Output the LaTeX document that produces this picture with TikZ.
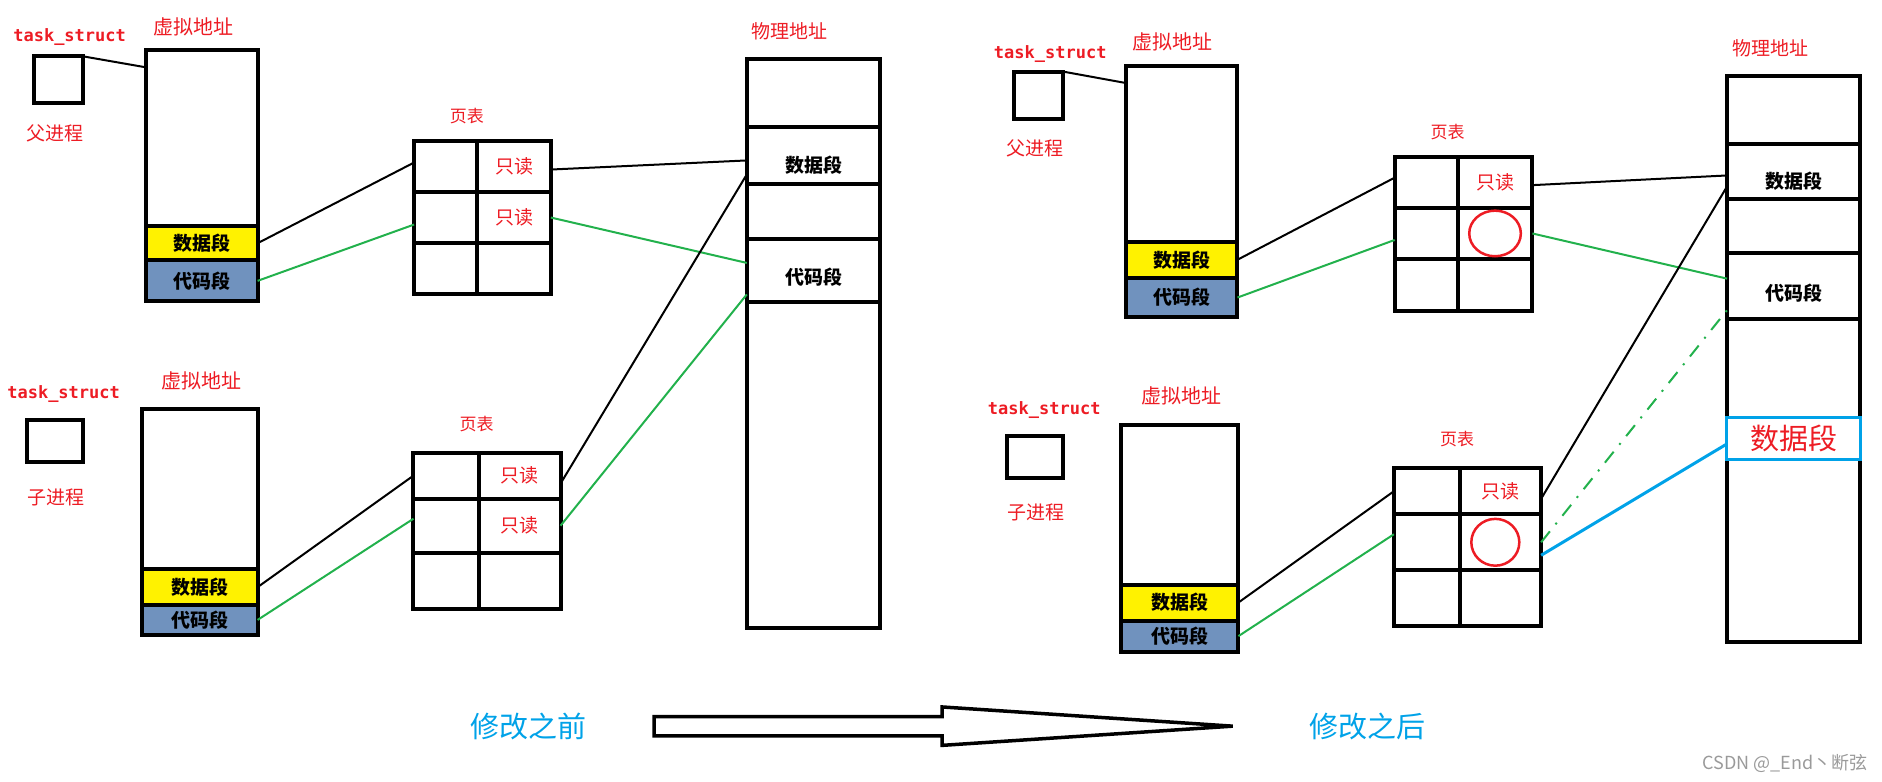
\documentclass[tikz,border=0pt]{standalone}
\usepackage{fontspec}
\setmainfont{Noto Sans CJK SC}
\newfontfamily\tsfont{DejaVu Sans Mono}
\usepackage{tikz}
\usetikzlibrary{positioning}
\usepackage{xcolor}
\definecolor{PaintRed}{HTML}{ED1C24}
\definecolor{PaintGreen}{HTML}{22B14C}
\definecolor{PaintBlue}{HTML}{00A2E8}
\definecolor{SegYellow}{HTML}{FFF200}
\definecolor{SegBlue}{HTML}{7092BE}
\definecolor{MarkGray}{HTML}{9A9A9A}

\begin{document}
\begin{tikzpicture}[x=1.2pt,y=-1.2pt,
  seg/.style 2 args={draw,line width=4pt,inner sep=0pt,outer sep=0pt,anchor=north west,
    minimum width=#1*1.2pt,minimum height=#2*1.2pt},
  tagtxt/.style={text=PaintRed,inner sep=0pt,font=\fontsize{17}{19}\selectfont\tsfont\bfseries},
  redtxt/.style={text=PaintRed,inner sep=0pt,font=\fontsize{19}{21}\selectfont},
  vatxt/.style={redtxt,font=\fontsize{20}{22}\selectfont},
  pgtxt/.style={redtxt,font=\fontsize{17}{19}\selectfont},
  segtxt/.style={font=\fontsize{19}{21}\selectfont\bfseries},
  bluetxt/.style={text=PaintBlue,inner sep=0pt,font=\fontsize{29}{32}\selectfont},
  vlink/.style={line width=2pt},
  glink/.style={draw=PaintGreen,line width=2pt},
  oldlink/.style={draw=PaintGreen,line width=2pt,dash pattern=on 14pt off 9pt on 2pt off 9pt},
  newlink/.style={draw=PaintBlue,line width=3pt},
  ring/.style={draw=PaintRed,line width=2.5pt}]
\useasboundingbox (0,0) rectangle (1568,651);

% ---- before: parent
\node[tagtxt] (ts1) at (58,31) {task\_struct};
\node[seg={41.5}{39}] (pbox1) at (28,47) {};
\node[redtxt] (pn1) at (46,111) {父进程};
\node[vatxt] (va1) at (161,22) {虚拟地址};
\node[seg={92.6}{146.3}] (vtop1) at (122,42) {};
\node[seg={92.6}{28.7},below=0pt of vtop1,fill=SegYellow,segtxt] (vdata1) {数据段};
\node[seg={92.6}{34},below=0pt of vdata1,fill=SegBlue,segtxt] (vcode1) {代码段};

\node[pgtxt] (pg1) at (389,97) {页表};
\node[seg={52.6}{42.5}] (pt1-l1) at (345,117.5) {};
\node[seg={61.4}{42.5},right=0pt of pt1-l1,redtxt] (pt1-r1) {只读};
\node[seg={52.6}{42.5},below=0pt of pt1-l1] (pt1-l2) {};
\node[seg={61.4}{42.5},right=0pt of pt1-l2,redtxt] (pt1-r2) {只读};
\node[seg={52.6}{42.5},below=0pt of pt1-l2] (pt1-l3) {};
\node[seg={61.4}{42.5},right=0pt of pt1-l3] (pt1-r3) {};

% ---- before: physical memory
\node[redtxt] (pa1) at (658,26) {物理地址};
\node[seg={111.2}{57}] (ph1-top) at (622.2,49) {};
\node[seg={111.2}{47},below=0pt of ph1-top,segtxt,text height=36pt] (ph1-data) {数据段};
\node[seg={111.2}{46},below=0pt of ph1-data] (ph1-gap) {};
\node[seg={111.2}{52.6},below=0pt of ph1-gap,segtxt,text height=30pt] (ph1-code) {代码段};
\node[seg={111.2}{271.4},below=0pt of ph1-code] (ph1-rest) {};

% ---- before: child
\node[tagtxt] (ts2) at (53,328) {task\_struct};
\node[seg={47.2}{34.7}] (cbox1) at (22.3,350) {};
\node[redtxt] (cn1) at (47,414) {子进程};
\node[vatxt] (va2) at (168,317) {虚拟地址};
\node[seg={96.6}{133.4}] (vtop2) at (118,341) {};
\node[seg={96.6}{29.6},below=0pt of vtop2,fill=SegYellow,segtxt] (vdata2) {数据段};
\node[seg={96.6}{25},below=0pt of vdata2,fill=SegBlue,segtxt] (vcode2) {代码段};

\node[pgtxt] (pg2) at (397,353) {页表};
\node[seg={54.5}{38.5}] (pt2-l1) at (344.5,377) {};
\node[seg={68}{38.5},right=0pt of pt2-l1,redtxt] (pt2-r1) {只读};
\node[seg={54.5}{45},below=0pt of pt2-l1] (pt2-l2) {};
\node[seg={68}{45},right=0pt of pt2-l2,redtxt] (pt2-r2) {只读};
\node[seg={54.5}{46.5},below=0pt of pt2-l2] (pt2-l3) {};
\node[seg={68}{46.5},right=0pt of pt2-l3] (pt2-r3) {};

\draw[vlink] (pbox1.north east) -- ([yshift=-17pt]vtop1.north west);
\draw[vlink] (vdata1.east) -- ([yshift=4pt]pt1-l1.west);
\draw[glink] (vcode1.east) -- ([yshift=-7pt]pt1-l2.west);
\draw[vlink] ([yshift=-3pt]pt1-r1.east) -- ([yshift=-5pt]ph1-data.west);
\draw[glink] (pt1-r2.east) -- ([yshift=7.5pt]ph1-code.west);
\draw[vlink] (vdata2.east) -- (pt2-l1.west);
\draw[glink] (vcode2.east) -- ([yshift=7pt]pt2-l2.west);
\draw[vlink] ([yshift=-8pt]pt2-r1.east) -- ([yshift=-19pt]ph1-data.west);
\draw[glink] (pt2-r2.east) -- ([yshift=-24pt]ph1-code.west);

% ---- after: parent
\node[tagtxt] (ts3) at (875,45) {task\_struct};
\node[seg={41.4}{39.7}] (pbox2) at (844.6,59.7) {};
\node[redtxt] (pn2) at (862,124) {父进程};
\node[vatxt] (va3) at (977,35) {虚拟地址};
\node[seg={93}{146.4}] (vtop3) at (938,55) {};
\node[seg={93}{30},below=0pt of vtop3,fill=SegYellow,segtxt] (vdata3) {数据段};
\node[seg={93}{33},below=0pt of vdata3,fill=SegBlue,segtxt] (vcode3) {代码段};

\node[pgtxt] (pg3) at (1206,110) {页表};
\node[seg={52.5}{42.5}] (pt3-l1) at (1162,130.5) {};
\node[seg={62.2}{42.5},right=0pt of pt3-l1,redtxt] (pt3-r1) {只读};
\node[seg={52.5}{43},below=0pt of pt3-l1] (pt3-l2) {};
\node[seg={62.2}{43},right=0pt of pt3-l2] (pt3-r2) {};
\node[seg={52.5}{43},below=0pt of pt3-l2] (pt3-l3) {};
\node[seg={62.2}{43},right=0pt of pt3-l3] (pt3-r3) {};
\draw[ring] (pt3-r2.center) ellipse [x radius=25.8pt, y radius=22.8pt];

% ---- after: physical memory
\node[redtxt] (pa2) at (1475,40.5) {物理地址};
\node[seg={111.1}{56.7}] (ph2-top) at (1438.9,63) {};
\node[seg={111.1}{46.3},below=0pt of ph2-top,segtxt,text height=36pt] (ph2-data) {数据段};
\node[seg={111.1}{45},below=0pt of ph2-data] (ph2-gap) {};
\node[seg={111.1}{54.8},below=0pt of ph2-gap,segtxt,text height=30pt] (ph2-code) {代码段};
\node[seg={111.1}{269.2},below=0pt of ph2-code] (ph2-rest) {};
\node[seg={111.5}{35.4},draw=PaintBlue,line width=3pt,fill=white,text=PaintRed,
      font=\fontsize{29}{32}\selectfont] (ph2-new) at (1438.7,347.6) {数据段};

% ---- after: child
\node[tagtxt] (ts4) at (870,342) {task\_struct};
\node[seg={47.1}{34.7}] (cbox2) at (838.9,363.3) {};
\node[redtxt] (cn2) at (863,427) {子进程};
\node[vatxt] (va4) at (984,330) {虚拟地址};
\node[seg={97.8}{133}] (vtop4) at (934,354) {};
\node[seg={97.8}{30},below=0pt of vtop4,fill=SegYellow,segtxt] (vdata4) {数据段};
\node[seg={97.8}{26},below=0pt of vdata4,fill=SegBlue,segtxt] (vcode4) {代码段};

\node[pgtxt] (pg4) at (1214,366) {页表};
\node[seg={54.7}{38.6}] (pt4-l1) at (1161.3,390) {};
\node[seg={68}{38.6},right=0pt of pt4-l1,redtxt] (pt4-r1) {只读};
\node[seg={54.7}{46.4},below=0pt of pt4-l1] (pt4-l2) {};
\node[seg={68}{46.4},right=0pt of pt4-l2] (pt4-r2) {};
\node[seg={54.7}{46.4},below=0pt of pt4-l2] (pt4-l3) {};
\node[seg={68}{46.4},right=0pt of pt4-l3] (pt4-r3) {};
\draw[ring] ([xshift=-5pt]pt4-r2.center) ellipse [x radius=24pt, y radius=23.4pt];

\draw[vlink] (pbox2.north east) -- ([yshift=-17pt]vtop3.north west);
\draw[vlink] (vdata3.east) -- ([yshift=4.5pt]pt3-l1.west);
\draw[glink] (vcode3.east) -- ([yshift=-6.5pt]pt3-l2.west);
\draw[vlink] ([yshift=-3pt]pt3-r1.east) -- ([yshift=-4pt]ph2-data.west);
\draw[glink] (pt3-r2.east) -- ([yshift=7.5pt]ph2-code.west);
\draw[vlink] (vdata4.east) -- (pt4-l1.west);
\draw[glink] (vcode4.east) -- ([yshift=8pt]pt4-l2.west);
\draw[vlink] ([yshift=-7.5pt]pt4-r1.east) -- ([yshift=-15pt]ph2-data.west);
\draw[oldlink] (pt4-r2.east) -- ([yshift=-24pt]ph2-code.west);
\draw[newlink] ([yshift=-13pt]pt4-r2.east) -- ([yshift=-5.5pt]ph2-new.west);

% ---- bottom
\node[bluetxt] (before) at (440,605) {修改之前};
\node[bluetxt] (after) at (1139,605) {修改之后};
\draw[line width=3.5pt] (545,597) -- (785,597) -- (785,589) -- (1027,605)
  -- (785,621) -- (785,613) -- (545,613) -- cycle;
\node[anchor=east,text=MarkGray,inner sep=0pt,font=\fontsize{18}{20}\selectfont] (wm) at (1556,636) {CSDN @\_End丶断弦};
\end{tikzpicture}
\end{document}
